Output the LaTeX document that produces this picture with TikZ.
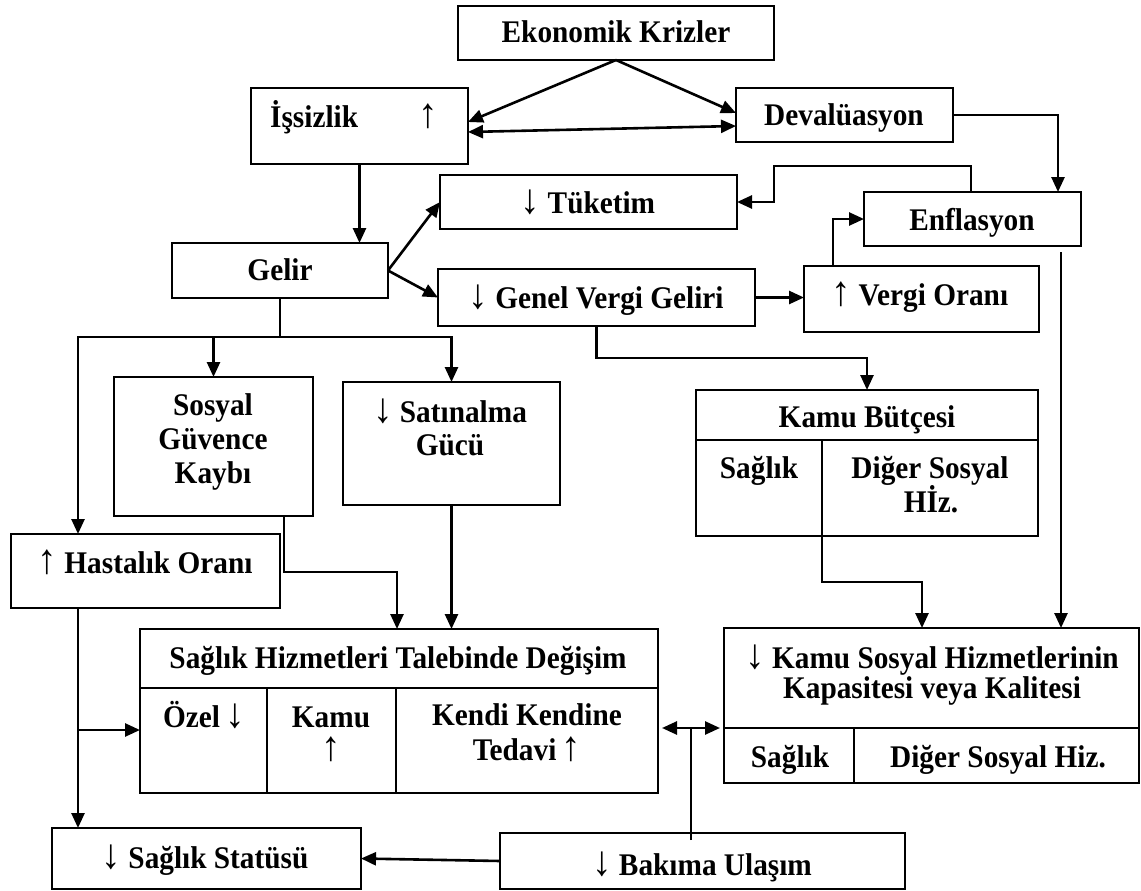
\documentclass[tikz,border=0pt]{standalone}
\usepackage{fontspec}
\setmainfont{Liberation Serif}[FakeStretch=0.93]
\usetikzlibrary{arrows.meta}
% thin, tall arrows used inside the labels
\newcommand{\UpA}{{\mdseries\fontsize{42}{42}\selectfont ↑}}
\newcommand{\DnA}{{\mdseries\fontsize{42}{42}\selectfont ↓}}
\begin{document}
\begin{tikzpicture}[x=1pt,y=-1pt,
  bx/.style={draw, line width=1.5pt, inner sep=0pt, outer sep=0pt},
  tx/.style={inner sep=0pt, anchor=base, font=\fontsize{31.5}{33}\selectfont\bfseries},
  ln/.style={line width=2.6pt},
  ar/.style={ln, -{Triangle[length=15pt,width=13pt]}},
  dar/.style={ln, {Triangle[length=15pt,width=13pt]}-{Triangle[length=15pt,width=13pt]}},
  sep/.style={line width=1.5pt}]

\useasboundingbox[fill=white] (0,0) rectangle (1141,891);

% ---------- boxes ----------
\node[bx, minimum width=316pt, minimum height=54pt]  (ek) at (616,33)     {};
\node[bx, minimum width=217pt, minimum height=76pt]  (is) at (359.5,126)  {};
\node[bx, minimum width=217pt, minimum height=54pt]  (dv) at (844.5,115)  {};
\node[bx, minimum width=297pt, minimum height=54pt]  (tk) at (588.5,202)  {};
\node[bx, minimum width=217pt, minimum height=54pt]  (en) at (972.5,219)  {};
\node[bx, minimum width=216pt, minimum height=55pt]  (ge) at (280,270.5)  {};
\node[bx, minimum width=317pt, minimum height=57pt]  (gv) at (596.5,297.5){};
\node[bx, minimum width=235pt, minimum height=66pt]  (vo) at (921.5,299)  {};
\node[bx, minimum width=199pt, minimum height=139pt] (sg) at (213.5,446.5){};
\node[bx, minimum width=217pt, minimum height=123pt] (sa) at (451.5,443.5){};
\node[bx, minimum width=342pt, minimum height=146pt] (kb) at (867,463)    {};
\node[bx, minimum width=269pt, minimum height=74pt]  (ho) at (145.5,571)  {};
\node[bx, minimum width=518pt, minimum height=164pt] (sh) at (399,711)    {};
\node[bx, minimum width=415pt, minimum height=155pt] (ks) at (931.5,705.5){};
\node[bx, minimum width=309pt, minimum height=61pt]  (st) at (206.5,858.5){};
\node[bx, minimum width=405pt, minimum height=56pt]  (bu) at (702.5,861)  {};

% ---------- table rules inside the boxes ----------
\draw[sep] (696,440) -- (1038,440);
\draw[sep] (822,440) -- (822,536);
\draw[sep] (140,688) -- (658,688);
\draw[sep] (267,688) -- (267,793);
\draw[sep] (396,688) -- (396,793);
\draw[sep] (724,728) -- (1139,728);
\draw[sep] (854,728) -- (854,783);

% ---------- labels ----------
\node[tx] (l1)  at (616,43)   {Ekonomik Krizler};
\node[tx, anchor=base west] (l2) at (270,127) {İşsizlik};
\node[tx] (l3)  at (428,127)  {\UpA};
\node[tx] (l4)  at (844,125)  {Devalüasyon};
\node[tx] (l5)  at (588,213)  {\DnA{} Tüketim};
\node[tx] (l6)  at (972,230)  {Enflasyon};
\node[tx] (l7)  at (280,280)  {Gelir};
\node[tx] (l8)  at (596,308)  {\DnA{} Genel Vergi Geliri};
\node[tx] (l9)  at (920,305)  {\UpA{} Vergi Oranı};
\node[tx] (l10) at (213,415)  {Sosyal};
\node[tx] (l11) at (213,449)  {Güvence};
\node[tx] (l12) at (213,483)  {Kaybı};
\node[tx] (l13) at (450,422)  {\DnA{} Satınalma};
\node[tx] (l14) at (450,455)  {Gücü};
\node[tx] (l15) at (867,427)  {Kamu Bütçesi};
\node[tx] (l16) at (759,478)  {Sağlık};
\node[tx] (l17) at (930,478)  {Diğer Sosyal};
\node[tx] (l18) at (931,512)  {Hİz.};
\node[tx] (l19) at (145,573)  {\UpA{} Hastalık Oranı};
\node[tx] (l20) at (398,668)  {Sağlık Hizmetleri Talebinde Değişim};
\node[tx] (l21) at (204,727)  {Özel\,\DnA};
% two-line labels: the base anchor sits on the last line
\node[tx, align=center] (l22) at (331,760)  {Kamu\\\UpA};
\node[tx, align=center, font=\fontsize{31.5}{35}\selectfont\bfseries] (l24) at (527,760)  {Kendi Kendine\\Tedavi\,\UpA};
\node[tx] (l26) at (932,668)  {\DnA{} Kamu Sosyal Hizmetlerinin};
\node[tx] (l27) at (932,698)  {Kapasitesi veya Kalitesi};
\node[tx] (l28) at (790,767)  {Sağlık};
\node[tx] (l29) at (998,767)  {Diğer Sosyal Hiz.};
\node[tx] (l30) at (205,868)  {\DnA{} Sağlık Statüsü};
\node[tx] (l31) at (702,875)  {\DnA{} Bakıma Ulaşım};

% ---------- connectors ----------
\draw[ar]  (ek.south) -- ([yshift=4pt]is.east);
\draw[ar]  (ek.south) -- ([yshift=2pt]dv.west);
\draw[dar] ([yshift=-6pt]is.east) -- ([yshift=-11pt]dv.west);
\draw[ar]  (dv.east) -| ([xshift=85.5pt]en.north);
\coordinate (j1) at (774,166);
\draw[ar]  ([xshift=-1.5pt]en.north) |- (j1) |- (tk.east);
\draw[ar]  ([xshift=-88.5pt]vo.north) |- (en.west);
\draw[ar]  (is.south) -- (is.south |- ge.north);
\draw[ar]  (ge.east) -- (tk.west);
\draw[ar]  (ge.east) -- (gv.west);
\draw[ar]  (gv.east) -- (gv.east -| vo.west);
\draw[ar]  (gv.south) -- ++(0,32) -| (kb.north);

% Gelir fans out downwards
\coordinate (gb) at (280,337);
\draw[ln]  (ge.south) -- (gb);
\draw[ar]  (gb) -| (sg.north);
\draw[ar]  (gb) -| (sa.north);
\draw[ar]  (gb) -| ([xshift=-67.5pt]ho.north);

\draw[ar]  ([xshift=70.5pt]sg.south) -- ++(0,56) -| ([xshift=-2pt]sh.north);
\draw[ar]  (sa.south) -- (sa.south |- sh.north);

% Hastalik Orani to demand and health status
\coordinate (hl) at ([xshift=-67.5pt]ho.south);
\coordinate (hz) at ([yshift=-19pt]sh.west);
\draw[ar]  (hl) -- (hl |- st.north);
\draw[ar]  (hl |- hz) -- (hz);

% public budget and inflation into public social services
\coordinate (kbd) at (822,488);
\draw[ar]  (kbd) -- ++(0,94) -| ([xshift=-9.5pt]ks.north);
\coordinate (ed) at ([xshift=88.5pt,yshift=-6pt]en.south);
\draw[ar]  (ed) -- (ed |- ks.north);

% access to care
\coordinate (bj) at (691,728);
\coordinate (bb) at (691,840);
\draw[ln]  (bb) -- (bj);
\draw[ar]  (bj) -- ([xshift=4pt]bj -| sh.east);
\draw[ar]  (bj) -- ([xshift=-4pt]bj -| ks.west);
\draw[ar]  (bu.west) -- (st.east);
\end{tikzpicture}
\end{document}
